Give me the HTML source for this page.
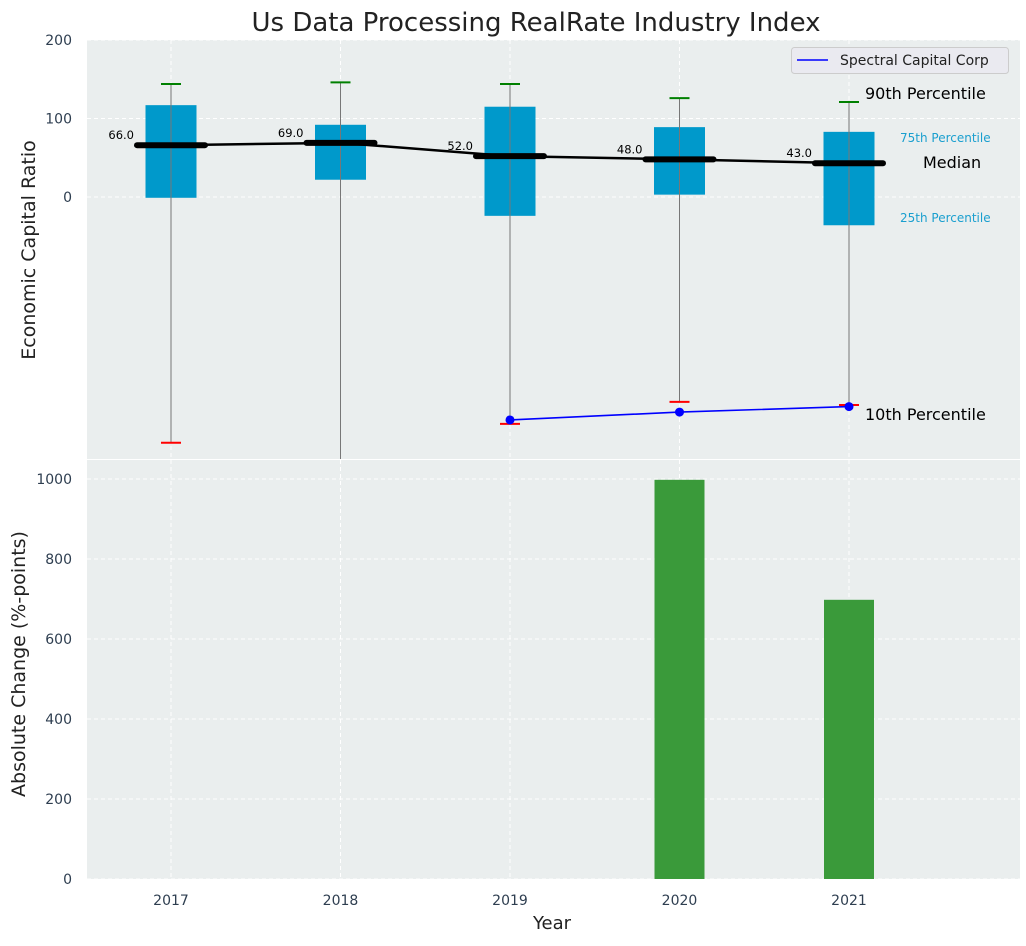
<!DOCTYPE html>
<html><head><meta charset="utf-8"><style>
body{margin:0;background:#fff;font-family:"DejaVu Sans","Liberation Sans",sans-serif;}
svg text{font-family:"DejaVu Sans","Liberation Sans",sans-serif;}
</style></head><body>
<svg id="chart" width="1026" height="942" xmlns="http://www.w3.org/2000/svg"></svg>
<script>
const years=[2017,2018,2019,2020,2021];
const p90=[144,146,144,126,121];
const p75=[117,92,115,89,83];
const med=[66,69,52,48,43];
const p25=[-1,22,-24,3,-36];
const p10=[-313,-345,-289,-261,-265];
const compYears=[2019,2020,2021];
const compVals=[-284,-274,-267];
const barYears=[2020,2021];
const barVals=[998,698];
const topTicks=[200,100,0];
const botTicks=[0,200,400,600,800,1000];

const NS='http://www.w3.org/2000/svg';
const svg=document.getElementById('chart');
function el(t,a,p){const e=document.createElementNS(NS,t);for(const k in a)e.setAttribute(k,a[k]);(p||svg).appendChild(e);return e;}
const L=87,R=1020;
const xs=y=>171+(y-2017)*169.5;
const yT=v=>197-v*0.785;
const yB=v=>879-v*0.4;

let bg1=el('rect',{x:L,y:40,width:R-L,height:419,fill:'#eaeeee'});

let bg2=el('rect',{x:L,y:460,width:R-L,height:419,fill:'#eaeeee'});


years.forEach(y=>{
 el('line',{x1:xs(y),x2:xs(y),y1:40,y2:459,stroke:'#fff','stroke-dasharray':'4,3','stroke-width':1});
 el('line',{x1:xs(y),x2:xs(y),y1:460,y2:879,stroke:'#fff','stroke-dasharray':'4,3','stroke-width':1});
 let t=el('text',{x:xs(y),y:905,'text-anchor':'middle','font-size':14,fill:'#2e3e50'});t.textContent=y;
 
});
topTicks.forEach(v=>{
 el('line',{x1:L,x2:R,y1:yT(v),y2:yT(v),stroke:'#fff','stroke-dasharray':'4,3'});
 let t=el('text',{x:72,y:yT(v)+5,'text-anchor':'end','font-size':14,fill:'#2e3e50'});t.textContent=v;
 
});
botTicks.forEach(v=>{
 el('line',{x1:L,x2:R,y1:yB(v),y2:yB(v),stroke:'#fff','stroke-dasharray':'4,3'});
 let t=el('text',{x:72,y:yB(v)+5,'text-anchor':'end','font-size':14,fill:'#2e3e50'});t.textContent=v;
 
});

const defs=el('defs',{});
const cp=el('clipPath',{id:'ct'},defs);el('rect',{x:L,y:40,width:R-L,height:419},cp);
const g=el('g',{'clip-path':'url(#ct)'});

years.forEach((y,i)=>{
 const x=xs(y);
 let b=el('rect',{x:x-25.5,y:yT(p75[i]),width:51,height:yT(p25[i])-yT(p75[i]),fill:'#0099cb'},g);
 
 let w=el('line',{x1:x,x2:x,y1:yT(p90[i]),y2:yT(p10[i]),stroke:'#777','stroke-width':1},g);
 
 let c1=el('line',{x1:x-10,x2:x+10,y1:yT(p90[i]),y2:yT(p90[i]),stroke:'green','stroke-width':2},g);
 
 let c2=el('line',{x1:x-10,x2:x+10,y1:yT(p10[i]),y2:yT(p10[i]),stroke:'red','stroke-width':2},g);
 
});
let mp=el('polyline',{points:years.map((y,i)=>xs(y)+','+yT(med[i])).join(' '),fill:'none',stroke:'#000','stroke-width':2.5},g);

years.forEach((y,i)=>{
 const x=xs(y);
 let m=el('line',{x1:x-34,x2:x+34,y1:yT(med[i]),y2:yT(med[i]),stroke:'#000','stroke-width':6,'stroke-linecap':'round'},g);
 
 let t=el('text',{x:x-37,y:yT(med[i])-6,'text-anchor':'end','font-size':11.5,fill:'#000'},g);t.textContent=med[i].toFixed(1);
 
});
let cl=el('polyline',{points:compYears.map((y,i)=>xs(y)+','+yT(compVals[i])).join(' '),fill:'none',stroke:'#0000ff','stroke-width':1.6},g);

compYears.forEach((y,i)=>{
 let c=el('circle',{cx:xs(y),cy:yT(compVals[i]),r:4.5,fill:'#0000ff'},g);
 
});

[['90th Percentile',865,99,16,'#000'],['75th Percentile',900,142,12,'#1a9fcf'],['Median',923,168,16,'#000'],['25th Percentile',900,222,12,'#1a9fcf'],['10th Percentile',865,420,16,'#000']].forEach(a=>{
 let t=el('text',{x:a[1],y:a[2],'font-size':a[3],fill:a[4]});t.textContent=a[0];
 
});

const lg=el('g',{});
el('rect',{x:791.5,y:47.5,width:217,height:26,rx:3,fill:'#eaeaf0',stroke:'#ccc'},lg);
el('line',{x1:797,x2:828,y1:60,y2:60,stroke:'#0000ff','stroke-width':1.6},lg);
let lt=el('text',{x:840,y:65,'font-size':14,fill:'#222'},lg);lt.textContent='Spectral Capital Corp';

barYears.forEach((y,i)=>{
 let b=el('rect',{x:xs(y)-25,y:yB(barVals[i]),width:50,height:yB(0)-yB(barVals[i]),fill:'#3a9a3a'});
 
});

let tt=el('text',{x:536,y:31,'text-anchor':'middle','font-size':26,fill:'#222'});tt.textContent='Us Data Processing RealRate Industry Index';

let yt1=el('text',{x:35,y:250,'text-anchor':'middle','font-size':19,fill:'#222',transform:'rotate(-90 35 250)'});yt1.textContent='Economic Capital Ratio';

let yt2=el('text',{x:25,y:664,'text-anchor':'middle','font-size':19,fill:'#222',transform:'rotate(-90 25 664)'});yt2.textContent='Absolute Change (%-points)';

let xt=el('text',{x:552,y:929,'text-anchor':'middle','font-size':18,fill:'#222'});xt.textContent='Year';

</script>
</body></html>
